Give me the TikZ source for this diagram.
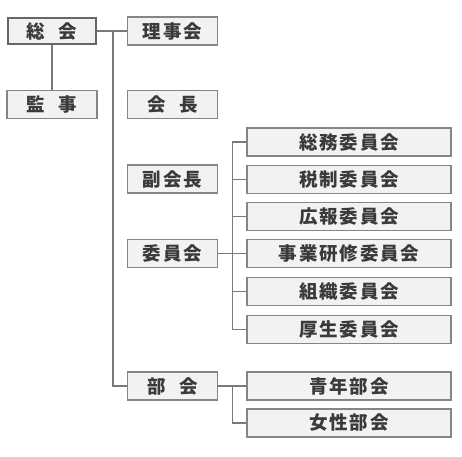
\documentclass[tikz,border=0pt]{standalone}
\usepackage{fontspec}
\setmainfont{Noto Sans CJK JP}[LetterSpace=10]
\definecolor{boxfill}{HTML}{F2F2F2}
\definecolor{boxline}{HTML}{858585}
\definecolor{txt}{HTML}{3A3A3A}
\definecolor{conn}{HTML}{7A7A7A}
\newcommand\gapsp{\hspace{13.5pt}}
\begin{document}
\begin{tikzpicture}[x=1pt,y=-1pt,
  box/.style={draw=boxline,fill=boxfill,line width=1.2pt,minimum height=28pt,inner sep=0pt,
    text=txt,font=\fontsize{18.5pt}{20pt}\selectfont\bfseries},
  smallbox/.style={box,minimum width=90pt},
  widebox/.style={box,minimum width=204pt},
  topbox/.style={smallbox,draw=black!60,line width=2.4pt,minimum width=88pt,minimum height=26pt},
  conline/.style={draw=conn,line width=1.2pt}]
\useasboundingbox (0,0) rectangle (462,456);
\node[topbox] (sokai) at (52,31) {総\gapsp 会};
\node[smallbox] (rijikai) at (172.5,31) {理事会};
\node[smallbox] (kanji) at (52,104.5) {監\gapsp 事};
\node[smallbox] (kaicho) at (172.5,104.5) {会\gapsp 長};
\node[smallbox] (fuku) at (172.5,179) {副会長};
\node[smallbox] (iinkai) at (172.5,253.5) {委員会};
\node[smallbox] (bukai) at (172.5,386) {部\gapsp 会};
\node[widebox] (soumu) at (349,142) {総務委員会};
\node[widebox] (zeisei) at (349,179.5) {税制委員会};
\node[widebox] (kouhou) at (349,216.5) {広報委員会};
\node[widebox] (jigyou) at (349,253.5) {事業研修委員会};
\node[widebox] (soshiki) at (349,291.5) {組織委員会};
\node[widebox] (kousei) at (349,329.5) {厚生委員会};
\node[widebox] (seinen) at (349,386) {青年部会};
\node[widebox] (josei) at (349,423) {女性部会};
\coordinate (trunk) at (113,31);
\draw[conline] (sokai.east) -- (rijikai.west);
\draw[conline] (trunk) |- (bukai.west);
\draw[conline] (sokai.south) -- (kanji.north);
\draw[conline] (iinkai.east) -- (jigyou.west);
\draw[conline] ([xshift=-14pt]soumu.west) -- (soumu.west);
\draw[conline] ([xshift=-14pt]soumu.west) |- (kousei.west);
\draw[conline] ([xshift=-14pt]zeisei.west) -- (zeisei.west);
\draw[conline] ([xshift=-14pt]kouhou.west) -- (kouhou.west);
\draw[conline] ([xshift=-14pt]soshiki.west) -- (soshiki.west);
\draw[conline] (bukai.east) -- (seinen.west);
\draw[conline] ([xshift=-14pt]seinen.west) |- (josei.west);
\end{tikzpicture}
\end{document}
